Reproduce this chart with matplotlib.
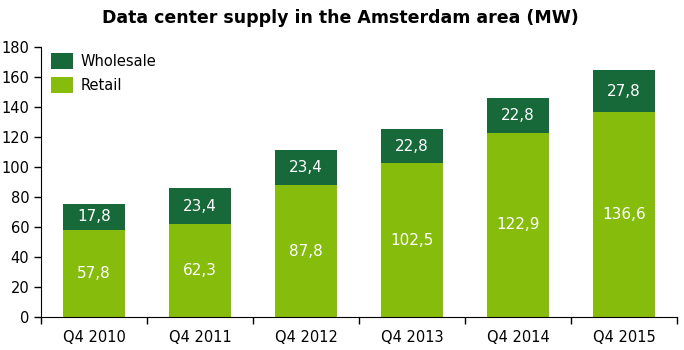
import numpy as np
import matplotlib.pyplot as plt

categories = ['Q4 2010', 'Q4 2011', 'Q4 2012', 'Q4 2013', 'Q4 2014', 'Q4 2015']
retail = [57.8, 62.3, 87.8, 102.5, 122.9, 136.6]
wholesale = [17.8, 23.4, 23.4, 22.8, 22.8, 27.8]

dark = '#17693a'
light = '#86bc0b'

fig = plt.figure(figsize=(6.84, 3.5), dpi=100)
ax = fig.add_axes([0.060, 0.094, 0.930, 0.772])

x = np.arange(len(categories))
w = 0.58
ax.bar(x, retail, w, color=light, label='Retail')
ax.bar(x, wholesale, w, bottom=retail, color=dark, label='Wholesale')

def fmt(v):
    return ('%.1f' % v).replace('.', ',')

for xi, r, wv in zip(x, retail, wholesale):
    ax.text(xi, r / 2, fmt(r), ha='center', va='center', color='white', fontsize=11)
    ax.text(xi, r + wv / 2, fmt(wv), ha='center', va='center', color='white', fontsize=11)

ax.set_xlim(-0.5, len(categories) - 0.5)
ax.set_ylim(0, 180)
ax.set_yticks(np.arange(0, 181, 20))
ax.set_xticks(x)
ax.set_xticklabels(categories)
ax.set_xticks(np.arange(-0.5, len(categories), 1), minor=True)
ax.tick_params(axis='x', which='major', length=0, pad=9, labelsize=10.5)
ax.tick_params(axis='x', which='minor', length=5, width=1, direction='out')
ax.tick_params(axis='y', length=5, width=1, labelsize=10.5)
for s in ['top', 'right']:
    ax.spines[s].set_visible(False)

h, l = ax.get_legend_handles_labels()
ax.legend(h[::-1], l[::-1], loc='upper left', bbox_to_anchor=(-0.005, 1.025), frameon=False,
          fontsize=10.5, handlelength=1.5, handleheight=1.3, handletextpad=0.5,
          labelspacing=0.55)

fig.suptitle('Data center supply in the Amsterdam area (MW)', x=0.497, y=0.975,
             fontsize=12.5, fontweight='bold')

fig.savefig('out.png', dpi=100)
